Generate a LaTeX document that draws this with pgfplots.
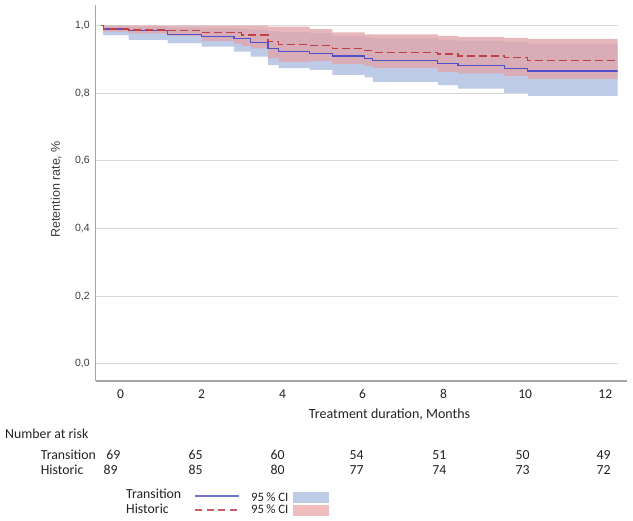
\documentclass[border=0pt]{standalone}
\usepackage{fontspec}
\setmainfont{Carlito}
\newfontfamily\arial{Liberation Sans}
\usepackage{pgfplots}
\pgfplotsset{compat=1.18}
\usepgfplotslibrary{fillbetween}
\usepackage{pgfplotstable}

\definecolor{bline}{HTML}{5050C8}
\definecolor{rline}{HTML}{C0404A}
\definecolor{bband}{HTML}{BDCBE7}
\definecolor{rband}{HTML}{E0A6AB}
\definecolor{rswatch}{HTML}{EFBDBD}
\definecolor{axgray}{HTML}{A6A6A6}
\definecolor{gridgray}{HTML}{D9D9D9}
\definecolor{txt}{HTML}{222222}
\definecolor{ticktxt}{HTML}{3A3A3A}

% t: months; bl/blo/bhi: Transition estimate and 95% CI; rl/rlo/rhi: Historic
\pgfplotstableread{
t     bl    blo   bhi   rl    rlo   rhi
0     1.000 1.000 1.000 1.000 1.000 1.000
0.04  0.990 0.972 1.000 0.990 0.982 1.000
0.63  0.985 0.958 0.998 0.987 0.977 1.000
1.54  0.973 0.948 0.995 0.985 0.970 1.000
2.33  0.968 0.938 0.993 0.979 0.955 1.000
3.08  0.961 0.923 0.991 0.979 0.947 1.000
3.26  0.961 0.923 0.991 0.972 0.940 1.000
3.47  0.950 0.908 0.988 0.972 0.933 1.000
3.87  0.933 0.883 0.984 0.952 0.903 0.997
4.12  0.923 0.874 0.981 0.945 0.893 0.997
4.84  0.918 0.869 0.978 0.942 0.895 0.990
5.37  0.910 0.854 0.970 0.932 0.886 0.980
6.12  0.903 0.847 0.965 0.926 0.880 0.974
6.31  0.896 0.834 0.962 0.921 0.874 0.974
7.82  0.888 0.824 0.958 0.916 0.863 0.970
8.29  0.883 0.814 0.955 0.910 0.859 0.967
9.36  0.874 0.801 0.951 0.905 0.851 0.964
9.91  0.866 0.792 0.947 0.898 0.842 0.961
12.0  0.866 0.792 0.947 0.898 0.842 0.961
}\km

\begin{document}
\begin{tikzpicture}
\begin{axis}[
  at={(95.7pt,-381pt)}, anchor=south west,
  scale only axis, width=522pt, height=376pt,
  xmin=-0.133, xmax=12, ymin=-0.051, ymax=1.061,
  axis lines=left,
  axis line style={axgray, line width=1.1pt, -},
  major tick length=0pt,
  ymajorgrids, grid style={gridgray, line width=0.9pt},
  ytick={0,0.2,0.4,0.6,0.8,1.0},
  yticklabels={{0,0},{0,2},{0,4},{0,6},{0,8},{1,0}},
  yticklabel style={font=\arial\fontsize{10.5}{12}\selectfont, text=ticktxt, anchor=east, xshift=-2.5pt},
  xtick={0.442,2.326,4.209,6.070,7.953,9.851,11.712},
  xticklabels={0,2,4,6,8,10,12},
  xticklabel style={font=\fontsize{13.5}{15}\selectfont, text=txt, anchor=center, yshift=-13pt},
  xlabel={Treatment duration, Months},
  xlabel style={at={(axis description cs:0.563,0)}, anchor=center, yshift=-34pt, font=\fontsize{14}{16}\selectfont, text=txt},
  ylabel={Retention rate, \%},
  ylabel style={at={(axis description cs:-0.076,0.51)}, anchor=center, font=\arial\fontsize{12.5}{14}\selectfont, text=ticktxt},
]
\addplot[name path=bhi, draw=none, const plot, mark=none] table[x=t,y=bhi]{\km};
\addplot[name path=blo, draw=none, const plot, mark=none] table[x=t,y=blo]{\km};
\addplot[bband, draw=none] fill between[of=bhi and blo];
\addplot[name path=rhi, draw=none, const plot, mark=none] table[x=t,y=rhi]{\km};
\addplot[name path=rlo, draw=none, const plot, mark=none] table[x=t,y=rlo]{\km};
\addplot[rband, fill opacity=0.8, draw=none] fill between[of=rhi and rlo];
\addplot[bline, line width=1.2pt, const plot, mark=none] table[x=t,y=bl]{\km};
\addplot[rline, line width=1.2pt, dash pattern=on 8pt off 4pt, const plot, mark=none] table[x=t,y=rl]{\km};
\end{axis}
\draw[axgray, line width=1.1pt] (617pt,-381pt) -- (627pt,-381pt);

% Number at risk table
\begin{scope}[every node/.style={font=\fontsize{13.8}{15}\selectfont, text=txt, inner sep=0pt}]
\node[anchor=west] at (5pt,-433.3pt) {Number at risk};
\node[anchor=west] at (40.7pt,-455pt) {Transition};
\node[anchor=west] at (40.7pt,-470pt) {Historic};
\foreach \x/\a in {113.3/69, 195.7/65, 277.7/60, 356.7/54, 439.3/51, 522.7/50, 603.7/49} {
  \node at (\x pt,-455pt) {\a};
}
\foreach \x/\b in {110.7/89, 195.7/85, 277.7/80, 356.7/77, 439.3/74, 522.7/73, 603.7/72} {
  \node at (\x pt,-470pt) {\b};
}
% legend
\node[anchor=west] at (126pt,-493.3pt) {Transition};
\node[anchor=west] at (126pt,-509.3pt) {Historic};
\end{scope}
\begin{scope}[every node/.style={font=\fontsize{12.8}{14}\selectfont, text=txt, inner sep=0pt}]
\node[anchor=west] at (251pt,-496.7pt) {95\,\% CI};
\node[anchor=west] at (251pt,-509.3pt) {95\,\% CI};
\end{scope}
\draw[bline!80!white, line width=1.1pt] (195pt,-496pt) -- (239pt,-496pt);
\draw[rline!85!white, line width=1.1pt, dash pattern=on 7pt off 4.5pt] (195pt,-510pt) -- (239pt,-510pt);
\fill[bband] (293.3pt,-491.7pt) rectangle (329.3pt,-502.7pt);
\fill[rswatch] (293.3pt,-505pt) rectangle (329.3pt,-516pt);
\path (0pt,0pt) rectangle (633pt,-521pt);
\end{tikzpicture}
\end{document}
